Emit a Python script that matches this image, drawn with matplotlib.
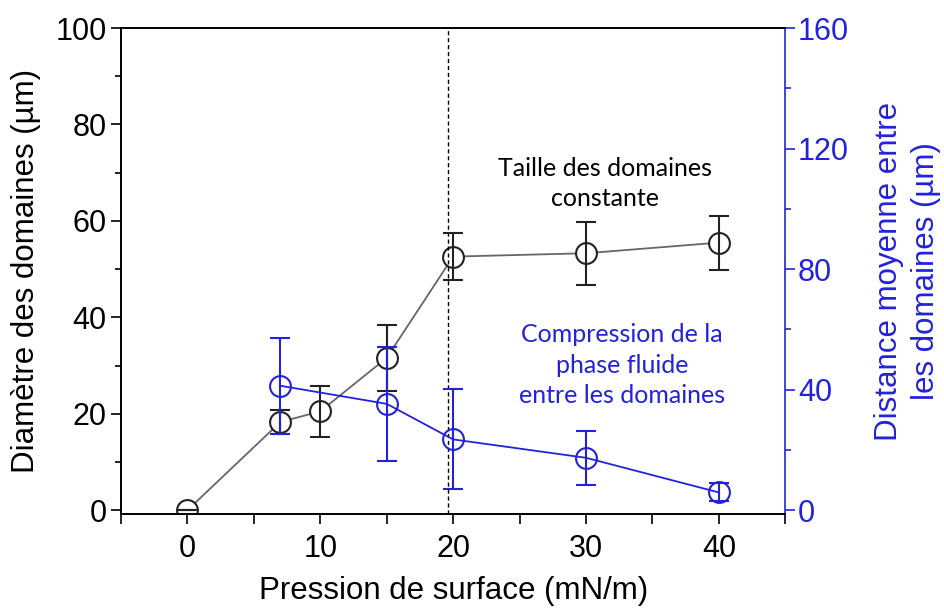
import matplotlib
matplotlib.use("Agg")
import matplotlib.pyplot as plt
from matplotlib.ticker import MultipleLocator

# donnees
pression_d = [0, 7, 10, 15, 20, 30, 40]
diametre = [0, 18.3, 20.5, 31.6, 52.6, 53.3, 55.5]
err_diametre = [0, 2.4, 5.3, 6.8, 4.8, 6.5, 5.6]

pression_f = [7, 15, 20, 30, 40]
distance = [41.3, 35.3, 23.5, 17.4, 5.9]
err_distance = [16, 19, 16.6, 9, 3]

transition = 19.6

blue = "#2222dd"

plt.rcParams["font.family"] = ["Liberation Sans", "DejaVu Sans"]

fig = plt.figure(figsize=(9.45, 6.1), dpi=100)
ax = fig.add_axes([0.128, 0.157, 0.703, 0.797])
ax2 = ax.twinx()

# serie noire : diametre
ax.plot(pression_d, diametre, color="#666666", lw=1.3, zorder=1)
ax.plot(pression_d, diametre, "o", ms=15, mfc="white", mec="#222222", mew=1.5, zorder=2)
ax.errorbar(pression_d, diametre, yerr=err_diametre, fmt="none", ecolor="#222222",
            elinewidth=1.5, capsize=7, capthick=1.5, zorder=3)

# serie bleue : distance
ax2.plot(pression_f, distance, color=blue, lw=1.3, zorder=1)
ax2.plot(pression_f, distance, "o", ms=15, mfc="none", mec=blue, mew=1.5, zorder=2)
ax2.errorbar(pression_f, distance, yerr=err_distance, fmt="none", ecolor=blue,
             elinewidth=1.5, capsize=7, capthick=1.5, zorder=3)

ax.axvline(transition, color="black", ls=(0, (3, 2)), lw=1)

ax.set_xlim(-5, 45)
ax.set_ylim(-0.83, 100)
ax2.set_ylim(-1.33, 160)

ax.xaxis.set_major_locator(MultipleLocator(10))
ax.xaxis.set_minor_locator(MultipleLocator(5))
ax.yaxis.set_major_locator(MultipleLocator(20))
ax.yaxis.set_minor_locator(MultipleLocator(10))
ax2.yaxis.set_major_locator(MultipleLocator(40))
ax2.yaxis.set_minor_locator(MultipleLocator(20))

ax.tick_params(axis="x", which="both", direction="out", length=7, width=1.2, labelsize=22, pad=7)
ax.tick_params(axis="y", which="major", direction="out", length=7, width=1.2, labelsize=22)
ax.tick_params(axis="y", which="minor", direction="out", length=4, width=1.2)
ax2.tick_params(axis="y", which="major", direction="out", length=7, width=1.2, labelsize=22,
                colors=blue, pad=2)
ax2.tick_params(axis="y", which="minor", direction="out", length=4, width=1.2, colors=blue)

for s in ["left", "bottom", "top"]:
    ax.spines[s].set_linewidth(1.2)
    ax2.spines[s].set_linewidth(1.2)
ax2.spines["right"].set_color(blue)
ax2.spines["right"].set_linewidth(1.2)
ax.spines["right"].set_visible(False)

ax.set_xlabel("Pression de surface (mN/m)", fontsize=22.5, labelpad=9)
ax.set_ylabel("Diamètre des domaines (µm)", fontsize=22.5, labelpad=10)
ax2.set_ylabel("Distance moyenne entre\nles domaines (µm)", fontsize=22.5, color=blue,
               labelpad=18, linespacing=1.3)

ax.text(31.4, 67.8, "Taille des domaines\nconstante", fontsize=18, family=["Lato", "DejaVu Sans"],
        ha="center", va="center", color="black", linespacing=1.4)
ax.text(32.7, 30.1, "Compression de la\nphase fluide\nentre les domaines", fontsize=18,
        family=["Lato", "DejaVu Sans"], ha="center", va="center", color=blue, linespacing=1.4)

fig.savefig("out.png", dpi=100)
